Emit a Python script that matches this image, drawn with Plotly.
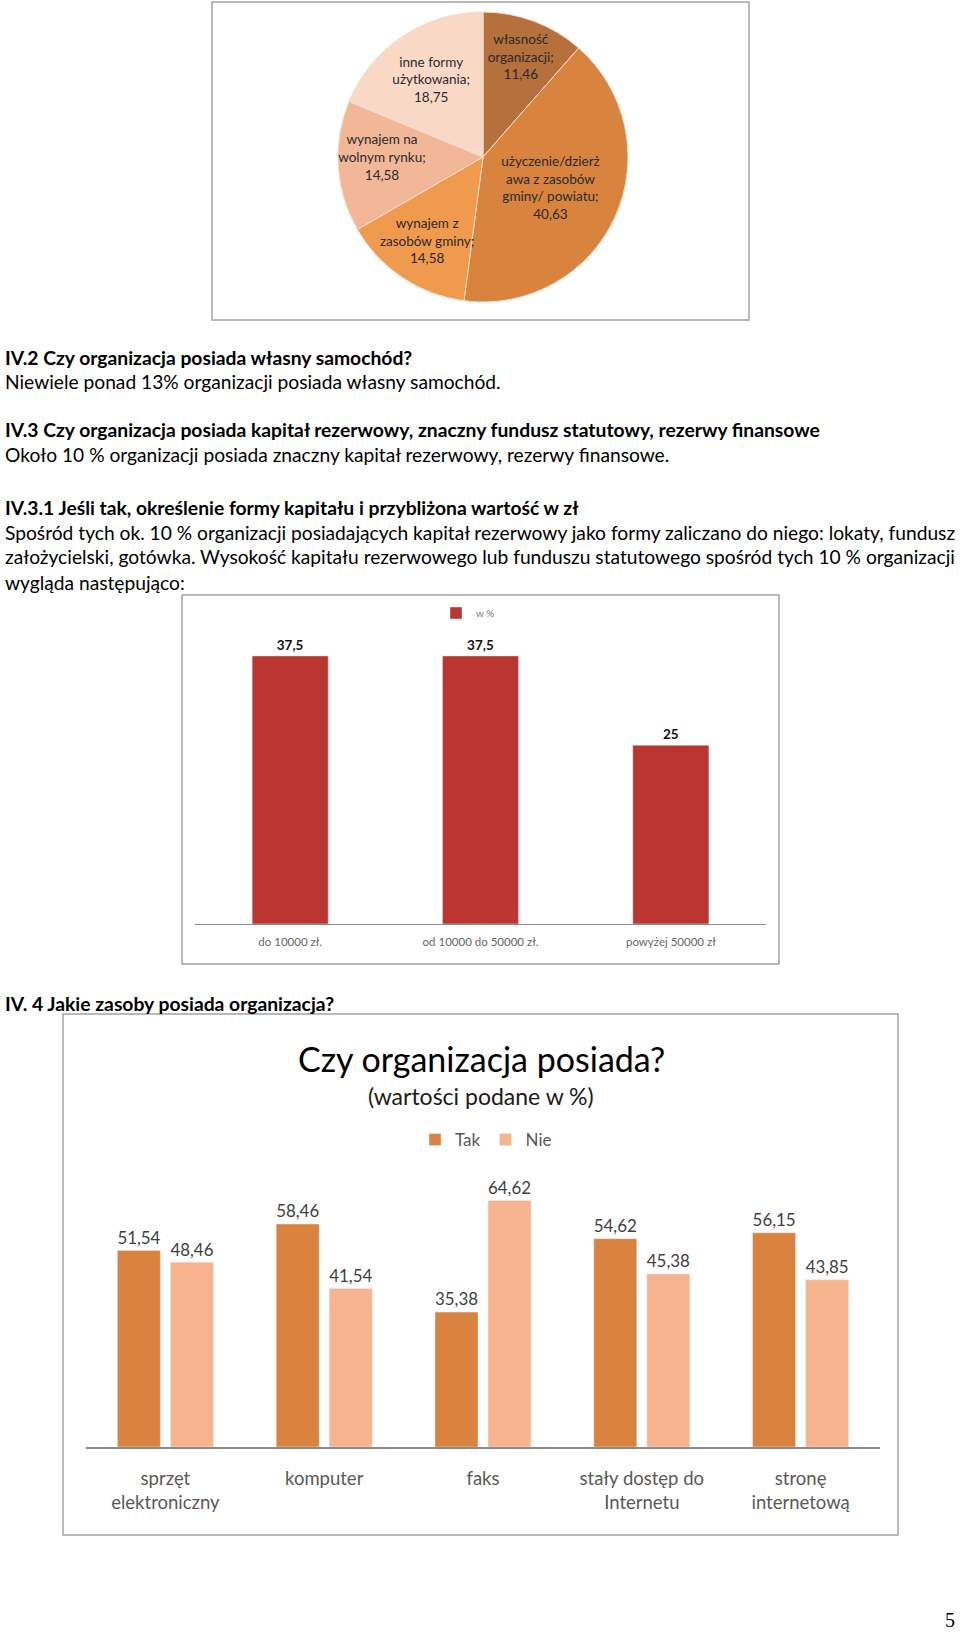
import plotly.graph_objects as go

W, H = 960, 1635

# ---------------- data ----------------
pie_labels = ["własność organizacji", "użyczenie/dzierżawa z zasobów gminy/ powiatu",
              "wynajem z zasobów gminy", "wynajem na wolnym rynku", "inne formy użytkowania"]
pie_display = ["własność<br>organizacji;", "użyczenie/dzierż<br>awa z zasobów<br>gminy/ powiatu;",
               "wynajem z<br>zasobów gminy;", "wynajem na<br>wolnym rynku;", "inne formy<br>użytkowania;"]
pie_values = [11.46, 40.63, 14.58, 14.58, 18.75]
pie_colors = ["#B5703B", "#D8843F", "#F09A4E", "#F2B797", "#F9D8C6"]

cap_categories = ["do 10000 zł.", "od 10000 do 50000 zł.", "powyżej 50000 zł"]
cap_values = [37.5, 37.5, 25]
cap_series = "w %"

res_categories = ["sprzęt<br>elektroniczny", "komputer", "faks", "stały dostęp do<br>Internetu", "stronę<br>internetową"]
res_tak = [51.54, 58.46, 35.38, 54.62, 56.15]
res_nie = [48.46, 41.54, 64.62, 45.38, 43.85]

# ---------------- helpers ----------------
def px(x):
    return x / W

def py(y):
    return 1 - y / H

def fmt(v, nd=None):
    s = f"{v:g}" if nd is None else f"{v:.{nd}f}"
    return s.replace(".", ",")

FONT = "Lato"

fig = go.Figure()

# pie
fig.add_trace(go.Pie(
    labels=pie_labels, values=pie_values, sort=False, direction="clockwise", rotation=0,
    text=[f"{t}<br>{fmt(v, 2)}" for t, v in zip(pie_display, pie_values)],
    textinfo="text", textposition="inside", insidetextorientation="horizontal",
    textfont=dict(family=FONT, size=13.5, color="#2b2b2b"),
    marker=dict(colors=pie_colors, line=dict(color="#F3DCCB", width=1)),
    domain=dict(x=[px(338), px(628)], y=[py(302), py(12)]),
    showlegend=False, hoverinfo="label+value",
))

# capital bar chart
fig.add_trace(go.Bar(
    x=cap_categories, y=cap_values, name=cap_series, width=0.40,
    marker=dict(color="#BB3631"),
    text=[fmt(v) for v in cap_values], textposition="outside",
    textfont=dict(family=FONT, size=13.5, color="#111", weight="bold"),
    cliponaxis=False, xaxis="x", yaxis="y", legend="legend",
))

# resources grouped bar chart
fig.add_trace(go.Bar(
    x=res_categories, y=res_tak, name="Tak", marker=dict(color="#DA833F"),
    text=[fmt(v, 2) for v in res_tak], textposition="outside",
    textfont=dict(family=FONT, size=19, color="#404040"),
    cliponaxis=False, xaxis="x2", yaxis="y2", legend="legend2",
))
fig.add_trace(go.Bar(
    x=res_categories, y=res_nie, name="Nie", marker=dict(color="#F7B48F"),
    text=[fmt(v, 2) for v in res_nie], textposition="outside",
    textfont=dict(family=FONT, size=19, color="#404040"),
    cliponaxis=False, xaxis="x2", yaxis="y2", legend="legend2",
))

# ---------------- text annotations ----------------
ann = []
def text(x, y, s, size=19.2, bold=False, anchor="left", color="#000", family=FONT):
    ann.append(dict(x=px(x), y=py(y), xref="paper", yref="paper", showarrow=False,
                    xanchor=anchor, yanchor="middle",
                    text=f"<b>{s}</b>" if bold else s,
                    font=dict(family=family, size=size, color=color)))

HB = 19.3
text(3, 357, "IV.2 Czy organizacja posiada własny samochód?", size=HB, bold=True)
text(3, 381, "Niewiele ponad 13% organizacji posiada własny samochód.")
text(3, 429, "IV.3 Czy organizacja posiada kapitał rezerwowy, znaczny fundusz statutowy, rezerwy finansowe", size=HB, bold=True)
text(3, 454, "Około 10 % organizacji posiada znaczny kapitał rezerwowy, rezerwy finansowe.")
text(3, 508, "IV.3.1 Jeśli tak, określenie formy kapitału i przybliżona wartość w zł", size=HB, bold=True)
text(3, 533, "Spośród tych ok. 10 % organizacji posiadających kapitał rezerwowy jako formy zaliczano do niego: lokaty, fundusz")
text(3, 557, "założycielski, gotówka. Wysokość kapitału rezerwowego lub funduszu statutowego spośród tych 10 % organizacji")
text(3, 582, "wygląda następująco:")
text(3, 1003, "IV. 4 Jakie zasoby posiada organizacja?", size=HB, bold=True)

text(481, 1058, "Czy organizacja posiada?", size=34, anchor="center")
text(481, 1096, "(wartości podane w %)", size=23, anchor="center", color="#1a1a1a")

text(950, 1620, "5", size=20, anchor="center", family="Liberation Serif")

# ---------------- frames ----------------
shapes = []
for x0, y0, x1, y1 in [(212, 2, 749, 320), (182, 595, 779, 964), (63, 1014, 898, 1535)]:
    shapes.append(dict(type="rect", xref="paper", yref="paper",
                       x0=px(x0), x1=px(x1), y0=py(y1), y1=py(y0),
                       line=dict(color="#A3A3A3", width=1.5), fillcolor="rgba(0,0,0,0)"))

fig.update_layout(
    width=W, height=H, autosize=False,
    margin=dict(l=0, r=0, t=0, b=0),
    paper_bgcolor="white", plot_bgcolor="white",
    font=dict(family=FONT),
    barmode="group", bargap=0.332, bargroupgap=0.189,
    uniformtext=dict(minsize=13.5, mode="show"),
    annotations=ann, shapes=shapes,
    xaxis=dict(domain=[px(195), px(766)], showline=True, linecolor="#8C8C8C", linewidth=1,
               ticks="", showgrid=False, zeroline=False, ticklabelstandoff=7,
               tickfont=dict(family=FONT, size=11.5, color="#666")),
    yaxis=dict(domain=[py(924), py(638)], range=[0, 40], visible=False),
    xaxis2=dict(domain=[px(86), px(880)], showline=True, linecolor="#8C8C8C", linewidth=1.5,
                ticks="", showgrid=False, zeroline=False, ticklabelstandoff=14,
                tickfont=dict(family=FONT, size=18.5, color="#595959"), anchor="y2"),
    yaxis2=dict(domain=[py(1447), py(1180)], range=[0, 70], visible=False, anchor="x2"),
    legend=dict(x=px(468), y=py(613), xanchor="center", yanchor="middle", orientation="h",
                font=dict(family=FONT, size=10, color="#777"), bgcolor="rgba(0,0,0,0)"),
    legend2=dict(x=px(486), y=py(1140), xanchor="center", yanchor="middle", orientation="h",
                 font=dict(family=FONT, size=17, color="#595959"), bgcolor="rgba(0,0,0,0)"),
    showlegend=True,
)

fig.write_html("out.html", config={"displayModeBar": False},
               post_script="document.body.style.margin='0px';")
